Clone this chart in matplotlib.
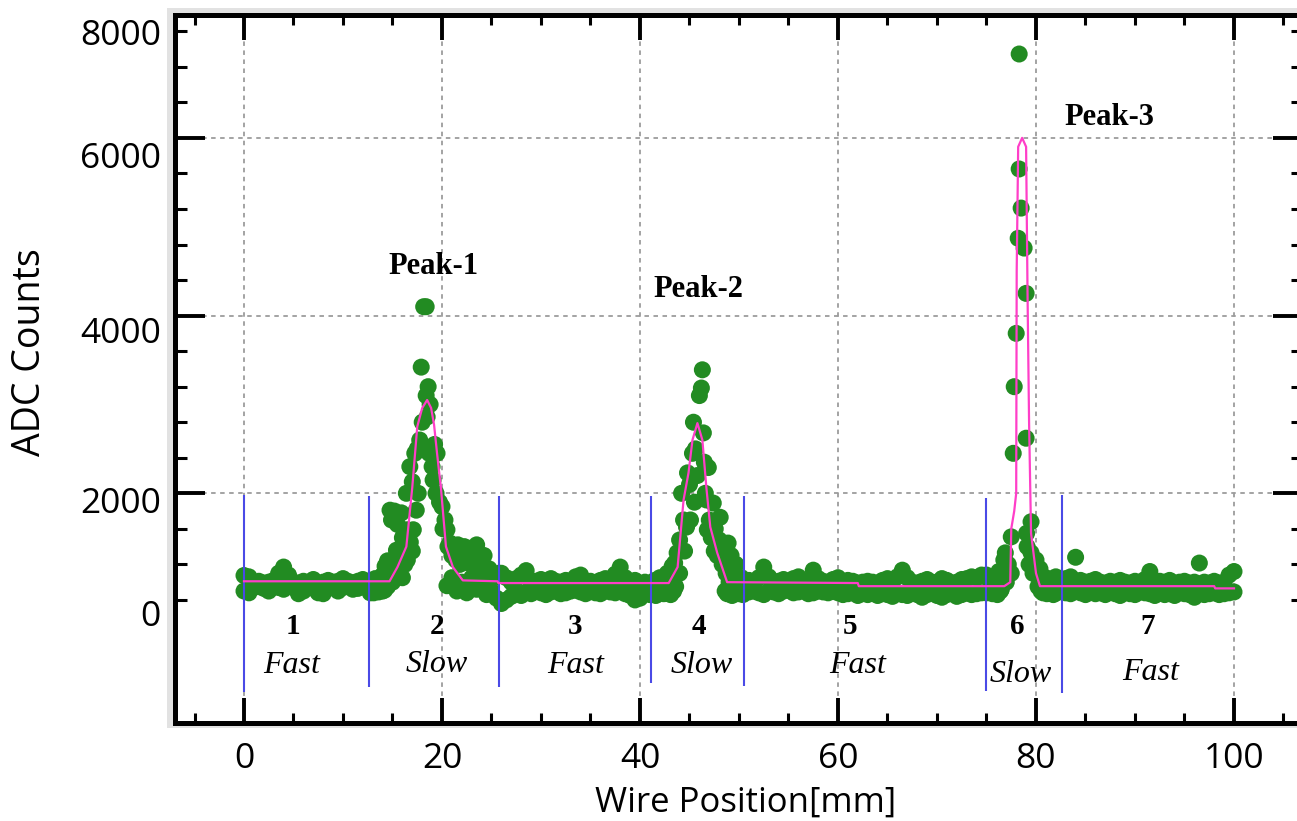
import numpy as np
import matplotlib
matplotlib.use("Agg")
import matplotlib.pyplot as plt
from matplotlib.ticker import FixedLocator
from matplotlib.patches import Rectangle

# ---------------- data (wire position [mm], ADC counts) ----------------
# Fast-scan regions: each position gives an upper and a lower reading
r1_pos = [0.0, 0.5, 1.0, 1.5, 2.0, 2.5, 3.0, 3.5, 4.0, 4.5, 5.0, 5.5, 6.0, 6.5, 7.0, 7.5, 8.0,
          8.5, 9.0, 9.5, 10.0, 10.5, 11.0, 11.5, 12.0, 12.5]
r1_hi = [1075, 1060, 1000, 1010, 990, 1000, 1020, 1100, 1170, 1080, 1000, 990, 1010, 1000, 1030,
         990, 1000, 1020, 1000, 1010, 1040, 1010, 990, 1010, 1030, 1000]
r1_lo = [900, 880, 940, 950, 930, 900, 950, 940, 920, 960, 940, 870, 900, 950, 930, 880, 870,
         930, 950, 900, 940, 950, 920, 930, 950, 940]

r3_pos = [26.0, 26.5, 27.0, 27.5, 28.0, 28.5, 29.0, 29.5, 30.0, 30.5, 31.0, 31.5, 32.0, 32.5,
          33.0, 33.5, 34.0, 34.5, 35.0, 35.5, 36.0, 36.5, 37.0, 37.5, 38.0, 38.5, 39.0, 39.5,
          40.0, 40.5]
r3_hi = [1100, 1050, 1000, 1040, 1080, 1130, 1000, 1010, 1030, 990, 1040, 1010, 1000, 1020, 1000,
         1060, 1080, 1000, 1010, 990, 1020, 1040, 1000, 1090, 1170, 1050, 1000, 1020, 980, 1000]
r3_lo = [760, 800, 840, 880, 850, 890, 870, 900, 880, 860, 890, 900, 870, 880, 900, 910, 890,
         870, 900, 880, 870, 900, 890, 880, 900, 870, 850, 800, 820, 870]

r5_pos = [51.0, 51.5, 52.0, 52.5, 53.0, 53.5, 54.0, 54.5, 55.0, 55.5, 56.0, 56.5, 57.0, 57.5,
          58.0, 58.5, 59.0, 59.5, 60.0, 60.5, 61.0, 61.5, 62.0, 62.5, 63.0, 63.5, 64.0, 64.5,
          65.0, 65.5, 66.0, 66.5, 67.0, 67.5, 68.0, 68.5, 69.0, 69.5, 70.0, 70.5, 71.0, 71.5,
          72.0, 72.5, 73.0, 73.5, 74.0, 74.5]
r5_hi = [1020, 1000, 1050, 1170, 1060, 1000, 1010, 1030, 1000, 1040, 1060, 1000, 1020, 1135,
         1040, 1010, 1000, 1030, 1050, 1000, 1020, 1010, 990, 1000, 1010, 1000, 990, 1020, 1040,
         1000, 1060, 1135, 1050, 1000, 990, 1010, 1030, 1000, 1000, 1040, 1020, 990, 1000, 1030,
         1040, 1060, 1050, 1080]
r5_lo = [890, 900, 880, 860, 900, 890, 870, 900, 910, 880, 890, 900, 870, 880, 900, 890, 880,
         900, 880, 860, 870, 880, 850, 870, 860, 880, 850, 870, 860, 840, 870, 860, 850, 880,
         860, 830, 860, 880, 850, 830, 860, 870, 840, 860, 880, 860, 870, 880]

r7_pos = [83.0, 83.5, 84.0, 84.5, 85.0, 85.5, 86.0, 86.5, 87.0, 87.5, 88.0, 88.5, 89.0, 89.5,
          90.0, 90.5, 91.0, 91.5, 92.0, 92.5, 93.0, 93.5, 94.0, 94.5, 95.0, 95.5, 96.0, 96.5,
          97.0, 97.5, 98.0, 98.5, 99.0, 99.5, 100.0]
r7_hi = [1040, 1060, 1280, 1020, 1000, 1010, 1030, 1000, 990, 1010, 1000, 1020, 1000, 990, 1010,
         1000, 1030, 1120, 990, 1010, 1000, 1020, 990, 1000, 1010, 990, 1000, 1215, 1000, 990,
         1010, 990, 1000, 1080, 1120]
r7_lo = [880, 870, 900, 880, 860, 890, 870, 880, 860, 890, 870, 850, 880, 870, 860, 890, 880,
         870, 850, 880, 860, 870, 850, 880, 870, 860, 830, 880, 860, 870, 880, 860, 870, 880, 890]

# Slow-scan regions: (position, counts) readings
scan_r2 = [(12.75, 1000), (12.75, 880), (12.9, 1010), (13.0, 950), (13.1, 880), (13.25, 1040),
           (13.4, 1000), (13.5, 900), (13.6, 890), (13.75, 1000), (13.9, 960), (14.0, 1080),
           (14.0, 900), (14.2, 910), (14.25, 1180), (14.5, 1240), (14.5, 950), (14.75, 1810),
           (14.9, 1700), (15.0, 1250), (15.0, 1000), (15.2, 1800), (15.4, 1360), (15.5, 1650),
           (15.5, 1100), (15.75, 1300), (15.9, 1780), (16.0, 1500), (16.0, 1050), (16.25, 1200),
           (16.4, 2000), (16.5, 1590), (16.5, 1250), (16.75, 2300), (16.8, 1450), (17.0, 2130),
           (17.0, 1350), (17.1, 1590), (17.25, 2450), (17.4, 1810), (17.5, 2500), (17.6, 2000),
           (17.75, 2600), (17.9, 3420), (18.0, 2800), (18.15, 4100), (18.4, 4100), (18.4, 3100),
           (18.5, 2860), (18.6, 3200), (18.7, 2450), (18.8, 3000), (18.9, 2500), (19.0, 2300),
           (19.1, 2150), (19.25, 2550), (19.4, 2000), (19.5, 2450), (19.75, 1900), (20.0, 1850),
           (20.1, 1600), (20.3, 1700), (20.5, 1590), (20.5, 960), (20.6, 1400), (20.8, 1440),
           (21.0, 1300), (21.0, 1050), (21.2, 1380), (21.4, 1250), (21.5, 900), (21.6, 1420),
           (21.8, 1200), (22.0, 1350), (22.0, 1000), (22.25, 1400), (22.5, 1220), (22.5, 880),
           (22.75, 1380), (23.0, 1300), (23.0, 1050), (23.25, 1200), (23.5, 1420), (23.5, 920),
           (23.75, 1250), (24.0, 1100), (24.0, 980), (24.25, 1300), (24.5, 1000), (24.5, 860),
           (24.75, 1150), (25.0, 900), (25.25, 1050), (25.5, 820), (25.75, 1100)]
scan_r4 = [(41.0, 860), (41.25, 1000), (41.4, 880), (41.5, 1020), (41.6, 850), (41.75, 960),
           (41.9, 900), (42.0, 1050), (42.1, 880), (42.25, 990), (42.4, 870), (42.5, 1010),
           (42.6, 900), (42.75, 1100), (42.9, 870), (43.0, 1000), (43.1, 860), (43.25, 1180),
           (43.4, 900), (43.5, 1215), (43.6, 950), (43.75, 1330), (44.0, 1475), (44.0, 1100),
           (44.2, 2000), (44.4, 1700), (44.5, 1350), (44.7, 1620), (44.8, 2230), (45.0, 2100),
           (45.1, 1700), (45.3, 2450), (45.4, 2800), (45.5, 1900), (45.6, 2500), (45.8, 2200),
           (46.0, 3100), (46.2, 3185), (46.3, 3390), (46.4, 2680), (46.5, 2350), (46.6, 2000),
           (46.7, 1925), (46.8, 1590), (46.9, 2290), (47.0, 1700), (47.2, 1500), (47.4, 1890),
           (47.5, 1350), (47.6, 1600), (47.8, 1300), (48.0, 1475), (48.1, 1730), (48.3, 1200),
           (48.5, 1380), (48.6, 900), (48.7, 1100), (48.8, 870), (48.9, 1440), (49.0, 1000),
           (49.1, 880), (49.2, 1300), (49.3, 850), (49.5, 950), (49.6, 1050), (49.7, 1200),
           (49.8, 880), (50.0, 870), (50.1, 1000), (50.25, 1050), (50.4, 860), (50.5, 900)]
scan_r6 = [(75.0, 1080), (75.0, 880), (75.25, 900), (75.4, 1000), (75.5, 1050), (75.6, 870),
           (75.75, 880), (75.9, 1020), (76.0, 1000), (76.1, 860), (76.25, 1120), (76.4, 900),
           (76.5, 920), (76.6, 1050), (76.75, 1250), (76.9, 1330), (77.0, 1000), (77.2, 1200),
           (77.5, 1510), (77.5, 1100), (77.7, 2450), (77.8, 3200), (78.0, 3800), (78.2, 4870),
           (78.3, 5650), (78.3, 6944), (78.5, 5210), (78.8, 4760), (79.0, 4250), (79.0, 2620),
           (79.05, 1550), (79.1, 1400), (79.3, 1200), (79.5, 1680), (79.5, 1330), (79.7, 1100),
           (80.0, 1250), (80.2, 950), (80.3, 1050), (80.4, 1150), (80.5, 900), (80.7, 880),
           (80.8, 1020), (81.0, 1050), (81.1, 870), (81.25, 920), (81.4, 1010), (81.5, 1000),
           (81.6, 880), (81.75, 860), (81.9, 1000), (82.0, 1060), (82.1, 880), (82.25, 900),
           (82.4, 1010), (82.5, 980)]

# fitted curve (pink)
fit_pos = [0.0, 14.7, 15.5, 16.4, 17.0, 17.5, 18.0, 18.5, 18.9, 19.2, 19.5, 19.9, 20.4, 21.1,
           22.1, 25.6, 25.7, 42.9, 43.8, 44.4, 44.9, 45.3, 45.8, 46.3, 46.7, 47.1, 47.8, 48.8,
           62.0, 62.1, 76.8, 77.4, 77.5, 77.8, 78.0, 78.05, 78.2, 78.6, 79.0, 79.15, 79.3,
           79.5, 80.0, 80.4, 98.0, 98.1, 100.0]
fit_adc = [1010, 1010, 1170, 1400, 2070, 2750, 2960, 3050, 2960, 2770, 2450, 2050, 1400, 1170,
           1020, 1010, 990, 990, 1170, 1925, 2230, 2600, 2790, 2600, 2070, 1620, 1330, 1000,
           990, 955, 955, 1000, 1600, 1800, 2000, 4500, 5900, 6000, 5900, 4200, 2800,
           1550, 1100, 955, 955, 930, 930]

# scan region boundaries (blue lines)
bound_pos = [0.0, 12.6, 25.8, 41.1, 50.5, 75.0, 82.6]
bound_top = [1980, 1970, 1970, 1970, 1970, 1947, 1980]
bound_bot = [-236, -180, -180, -135, -169, -225, -248]

# region labels
region_num = ["1", "2", "3", "4", "5", "6", "7"]
region_speed = ["Fast", "Slow", "Fast", "Slow", "Fast", "Slow", "Fast"]
region_num_x = [4.9, 19.5, 33.4, 45.9, 61.2, 78.1, 91.3]
region_speed_x = [4.85, 19.5, 33.5, 46.2, 62.0, 78.5, 91.6]
region_speed_y = [-23, -12, -23, -23, -23, -124, -101]

peak_text = ["Peak-1", "Peak-2", "Peak-3"]
peak_x = [19.1, 45.9, 87.4]
peak_y = [4468, 4209, 6145]

x_ticks = [0, 20, 40, 60, 80, 100]
y_grid = [2000, 4000, 6000]
y_tick_labels = ["0", "2000", "4000", "6000", "8000"]
y_label_at = [653, 1925, 3838, 5808, 7192]

# ---------------- figure ----------------
plt.rcParams['font.family'] = ['Open Sans', 'DejaVu Sans']
W, H = 1297, 821
fig = plt.figure(figsize=(W / 100, H / 100), dpi=100)
L, R, T, B = 174.7, 1303.3, 15, 723
ax = fig.add_axes([L / W, 1 - B / H, (R - L) / W, (B - T) / H])
ax.set_xlim(-7, 107)
ax.set_ylim(-585, 7383)

fig.patches.append(Rectangle((167 / W, 1 - 728 / H), (1330 - 167) / W, (728 - 8) / H,
                             transform=fig.transFigure, facecolor='#e2e2e2',
                             edgecolor='none', zorder=-5))

pos, adc = [], []
for p_list, hi, lo in ((r1_pos, r1_hi, r1_lo), (r3_pos, r3_hi, r3_lo),
                       (r5_pos, r5_hi, r5_lo), (r7_pos, r7_hi, r7_lo)):
    pos += list(p_list) + list(p_list)
    adc += list(hi) + list(lo)
for reg in (scan_r2, scan_r4, scan_r6):
    for p, a in reg:
        pos.append(p)
        adc.append(a)

ax.scatter(pos, adc, s=150, color='#228B22', edgecolors='none', zorder=3)
ax.vlines(bound_pos, bound_bot, bound_top, color='#4a4ae6', lw=1.5, zorder=4)
ax.plot(fit_pos, fit_adc, color='#ff3ec8', lw=1.6, zorder=5)

serif = ['Liberation Serif', 'DejaVu Serif']
for t, x, y in zip(peak_text, peak_x, peak_y):
    ax.text(x, y, t, fontsize=22, fontweight='bold', family=serif, ha='center', va='baseline', zorder=6)
for t, x in zip(region_num, region_num_x):
    ax.text(x, 416, t, fontsize=21, fontweight='bold', family=serif, ha='center', va='baseline', zorder=6)
for t, x, y in zip(region_speed, region_speed_x, region_speed_y):
    ax.text(x, y, t, fontsize=23, style='italic', family=serif, ha='center', va='baseline', zorder=6)

# grid + ticks
ax.set_xticks(x_ticks)
ax.set_xticklabels([str(v) for v in x_ticks])
ax.xaxis.set_minor_locator(FixedLocator(list(range(-5, 106, 5))))
ax.set_yticks(y_grid)
ax.yaxis.set_minor_locator(FixedLocator(list(range(800, 7201, 400))))
ax.grid(True, which='major', color='#9c9c9c', ls=(0, (2.5, 2.5)), lw=1.3)
ax.set_axisbelow(True)

ax.tick_params(axis='x', which='major', direction='in', length=18, width=2.8, top=True,
               bottom=True, labelsize=25.5, pad=14)
ax.tick_params(axis='x', which='minor', direction='in', length=7, width=2.2, top=True, bottom=True)
ax.tick_params(axis='y', which='major', direction='in', length=21.5, width=2.8, left=True,
               right=True, labelleft=False)
ax.tick_params(axis='y', which='minor', direction='in', length=8.5, width=2.2, left=True, right=True)
for s in ax.spines.values():
    s.set_linewidth(3.6)

sec = ax.secondary_yaxis('left')
sec.set_ticks(y_label_at, labels=y_tick_labels)
sec.tick_params(axis='y', length=0, pad=10, labelsize=25.5)
sec.spines['left'].set_visible(False)

ax.set_xlabel('Wire Position[mm]', fontsize=25)
ax.xaxis.set_label_coords(0.506, -0.088)
ax.set_ylabel('ADC Counts', fontsize=27, va='center')
ax.yaxis.set_label_coords(-0.128, 0.524)

fig.savefig('out.png', dpi=100)
